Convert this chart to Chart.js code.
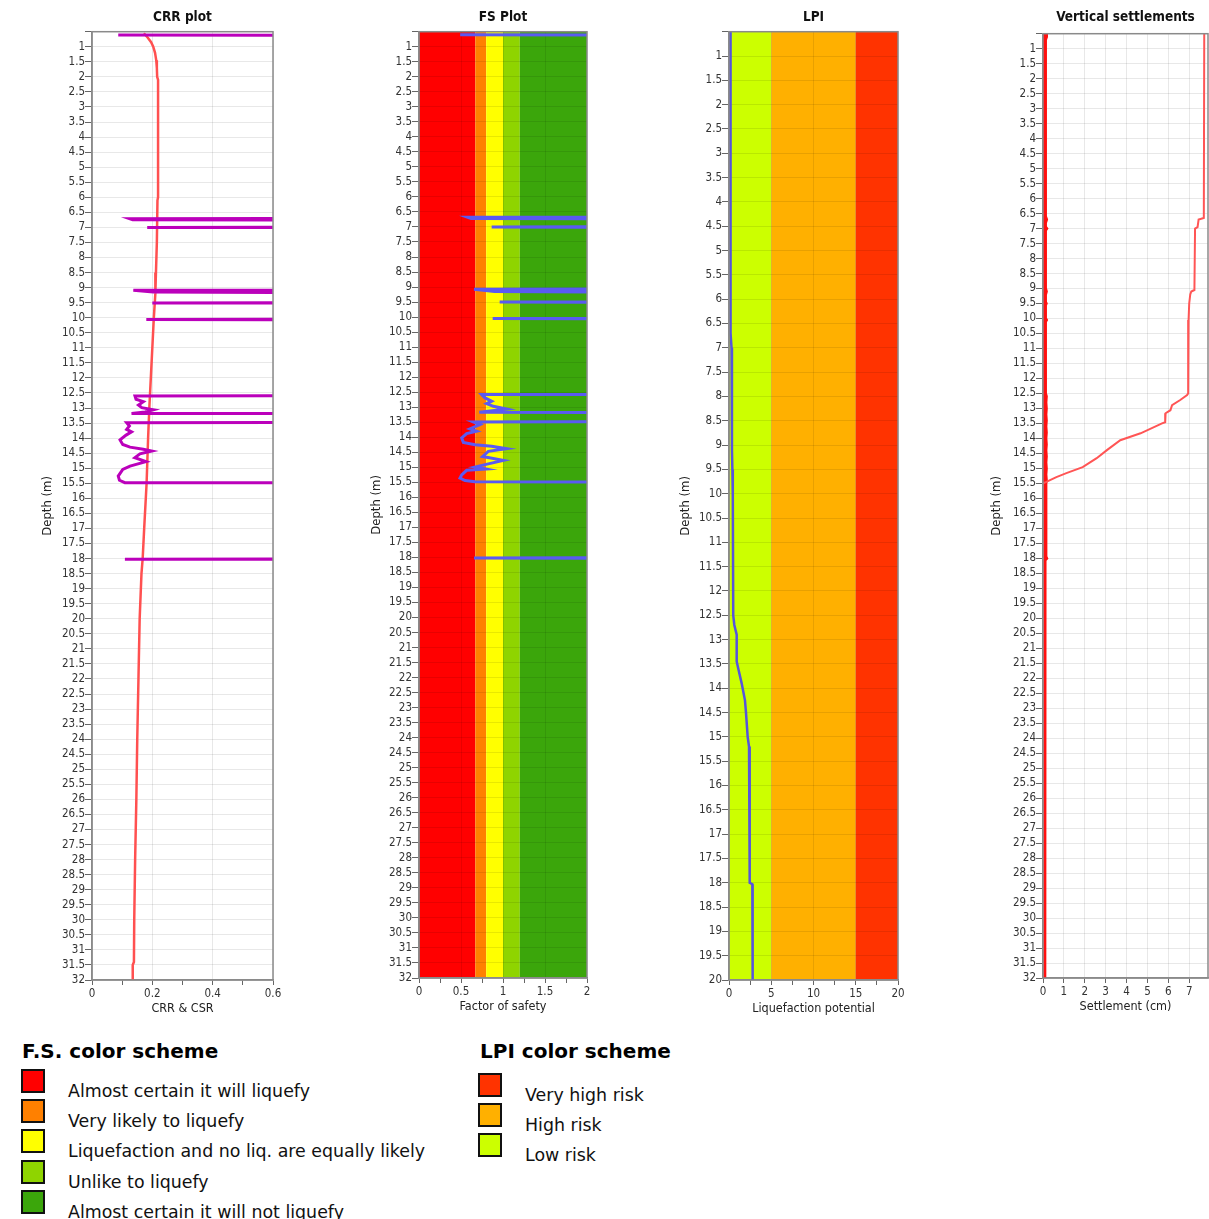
<!DOCTYPE html>
<html>
<head>
<meta charset="utf-8">
<title>Liquefaction analysis</title>
<script src="https://cdn.jsdelivr.net/npm/chart.js@4.4.0/dist/chart.umd.min.js"></script>
<style>
  html, body { margin: 0; padding: 0; background: #fff; width: 1209px; height: 1219px; overflow: hidden; }
  canvas { position: absolute; top: 0; }
  .legend-title { position: absolute; font: bold 20px "DejaVu Sans", sans-serif; color: #000; white-space: nowrap; }
  .sw { position: absolute; width: 20px; height: 20px; border: 2px solid #111; }
  .lbl { position: absolute; font: 17.4px "DejaVu Sans", sans-serif; color: #111; white-space: nowrap; line-height: 20px; }
</style>
</head>
<body>
<canvas id="crr" width="290" height="1025" style="left:0px"></canvas>
<canvas id="fs" width="272" height="1023" style="left:327px"></canvas>
<canvas id="lpi" width="273" height="1025" style="left:637px"></canvas>
<canvas id="settle" width="258" height="1023" style="left:951px"></canvas>

<div class="legend-title" style="left:22px;top:1039px">F.S. color scheme</div>
<div id="fsLegend"></div>
<div class="legend-title" style="left:480px;top:1039px">LPI color scheme</div>
<div id="lpiLegend"></div>

<script>
// ---- CSR (red) and CRR (purple) profiles, depth in m ----
const csrDepth = [0.55, 0.7, 0.85, 1.0, 1.2, 1.45, 1.7, 2.0, 2.1, 6.0, 6.1, 7.5, 8.5, 9.2, 10.0, 11.0, 12.0, 13.0, 14.0, 15.5, 17.0, 18.0, 18.5, 20.0, 22.0, 24.0, 26.0, 28.0, 30.0, 31.4, 31.5, 32.0];
const csrValue = [0.172, 0.185, 0.196, 0.203, 0.209, 0.213, 0.215, 0.216, 0.219, 0.219, 0.217, 0.215, 0.212, 0.21, 0.205, 0.2, 0.195, 0.19, 0.186, 0.181, 0.173, 0.168, 0.164, 0.158, 0.154, 0.15, 0.147, 0.143, 0.14, 0.139, 0.135, 0.135];

// CRR of non-liquefiable layers is plotted as 2 (beyond the axis)
const crrDepth = [0.61, 0.63, 6.69, 6.71, 6.75, 6.77, 6.99, 7.0, 7.03, 9.07, 9.09, 9.15, 9.21, 9.49, 9.51, 9.53, 10.04, 10.06, 10.09,
  12.58, 12.6, 12.71, 12.79, 12.9, 12.99, 13.06, 13.13, 13.18, 13.2,
  13.47, 13.49, 13.6, 13.71, 13.79, 13.9, 14.06, 14.21, 14.3, 14.37, 14.43, 14.52, 14.65, 14.78, 14.93, 15.04, 15.26, 15.4, 15.48, 15.5,
  18.0, 18.02, 18.05, 32.0];
const crrValue = [0.087, 2, 2, 0.124, 0.135, 2, 2, 0.183, 2, 2, 0.137, 0.203, 2, 2, 0.2, 2, 2, 0.18, 2,
  2, 0.1425, 0.146, 0.17, 0.154, 0.165, 0.203, 0.176, 0.131, 2,
  2, 0.115, 0.124, 0.115, 0.131, 0.113, 0.093, 0.102, 0.126, 0.17, 0.198, 0.159, 0.142, 0.179, 0.126, 0.102, 0.087, 0.091, 0.109, 2,
  2, 0.109, 2, 2];

// ---- Factor of safety, capped at 5 where no liquefaction ----
const fsDepth = [0.6, 0.62, 6.66, 6.68, 6.72, 6.74, 6.98, 7.0, 7.03, 9.05, 9.07, 9.15, 9.2, 9.48, 9.5, 9.52, 10.03, 10.05, 10.08,
  12.56, 12.58, 12.69, 12.8, 12.88, 12.97, 13.06, 13.1, 13.17, 13.19,
  13.47, 13.49, 13.58, 13.72, 13.8, 13.88, 14.02, 14.17, 14.25, 14.3, 14.38, 14.47, 14.64, 14.77, 14.91, 14.99, 15.06, 15.1, 15.25, 15.36, 15.44, 15.48, 15.5,
  18.0, 18.02, 18.05, 32.0];
const fsValue = [0.49, 5, 5, 0.58, 0.62, 5, 5, 0.865, 5, 5, 0.655, 0.9, 5, 5, 0.96, 5, 5, 0.877, 5,
  5, 0.746, 0.786, 0.865, 0.806, 0.885, 1.044, 0.925, 0.718, 5,
  5, 0.647, 0.726, 0.607, 0.686, 0.567, 0.508, 0.528, 0.667, 0.865, 1.044, 0.825, 0.758, 1.004, 0.786, 0.667, 0.797, 0.567, 0.508, 0.488, 0.548, 0.667, 5,
  5, 0.655, 5, 5];
const fsBandEdges = [0, 0.67, 0.8, 1.0, 1.2, 2];
const fsBandColors = ['#ff0000', '#ff8000', '#ffff00', '#8fd400', '#3ba60b'];
const fsBandNames = ['Almost certain it will liquefy', 'Very likely to liquefy', 'Liquefaction and no liq. are equally likely', 'Unlike to liquefy', 'Almost certain it will not liquefy'];

// ---- Liquefaction potential index ----
const lpiDepth = [0.5, 6.6, 6.7, 7.0, 9.1, 9.5, 10.05, 12.5, 12.7, 12.9, 13.45, 13.6, 13.9, 14.25, 14.5, 15.0, 15.2, 15.4, 18.0, 18.03, 20.0];
const lpiValue = [0.15, 0.15, 0.22, 0.3, 0.35, 0.4, 0.45, 0.5, 0.63, 0.91, 0.91, 1.1, 1.5, 1.89, 2.01, 2.21, 2.37, 2.45, 2.45, 2.76, 2.8];
const lpiBandEdges = [0, 5, 15, 20];
const lpiBandColors = ['#ccff00', '#ffb000', '#ff3300'];
const lpiLegendNames = ['Very high risk', 'High risk', 'Low risk'];
const lpiLegendColors = ['#ff3300', '#ffb000', '#ccff00'];

// ---- Vertical settlements (cm) ----
const settleDepth = [0.5, 6.65, 6.7, 6.95, 7.0, 9.05, 9.1, 9.2, 9.5, 10.05, 12.5, 12.55, 12.72, 12.89, 13.06, 13.16, 13.46, 13.5, 13.83, 14.06, 14.39, 14.66, 14.96, 15.16, 15.29, 15.45, 15.5, 32.0];
const settleValue = [7.72, 7.7, 7.45, 7.4, 7.28, 7.25, 7.1, 7.05, 7.0, 6.97, 6.95, 6.9, 6.57, 6.18, 6.1, 5.87, 5.85, 5.7, 4.67, 3.7, 3.06, 2.57, 1.9, 1.12, 0.64, 0.16, 0.0, 0.0];
const layerDepth = [0.5, 0.6, 0.7, 6.6, 6.7, 6.8, 6.95, 7.0, 7.05, 9.0, 9.1, 9.2, 9.45, 9.5, 9.55, 10.0, 10.05, 10.1, 12.5, 12.6, 12.8, 13.0, 13.2, 13.4, 13.6, 13.8, 14.0, 14.2, 14.4, 14.6, 14.8, 15.0, 15.2, 15.4, 15.5, 17.95, 18.0, 18.05, 32.0];
const layerValue = [0.1, 0.12, 0.07, 0.07, 0.12, 0.07, 0.07, 0.12, 0.07, 0.07, 0.11, 0.07, 0.07, 0.1, 0.07, 0.07, 0.11, 0.07, 0.07, 0.11, 0.09, 0.11, 0.09, 0.11, 0.09, 0.11, 0.09, 0.11, 0.09, 0.11, 0.09, 0.11, 0.09, 0.11, 0.09, 0.09, 0.12, 0.05, 0.04];

// ---- Axis ticks ----
const crrTicks = [0, 0.1, 0.2, 0.3, 0.4, 0.5, 0.6];
const crrLabels = [0, 0.2, 0.4, 0.6];
const fsTicks = [0, 0.25, 0.5, 0.75, 1, 1.25, 1.5, 1.75, 2];
const fsLabels = [0, 0.5, 1, 1.5, 2];
const lpiTicks = [0, 2.5, 5, 7.5, 10, 12.5, 15, 17.5, 20];
const lpiLabels = [0, 5, 10, 15, 20];
const settleTicks = [0, 1, 2, 3, 4, 5, 6, 7];
const settleLabels = [0, 1, 2, 3, 4, 5, 6, 7];

const FONT = '"DejaVu Sans Condensed", "DejaVu Sans", sans-serif';
Chart.defaults.font.family = FONT;
Chart.defaults.color = '#333';

function pts(depths, values) {
  return depths.map((d, i) => ({ x: values[i], y: d }));
}
function depthTicks(max) {
  const t = [];
  for (let i = 1; i * 0.5 <= max; i++) t.push(i * 0.5);
  return t;
}

// colour bands behind the data and a frame round the plot area
const framePlugin = {
  id: 'frame',
  beforeDraw(chart, args, opts) {
    const b = opts.bands;
    if (!b) return;
    const { top, bottom } = chart.chartArea;
    const xs = chart.scales.x;
    const ctx = chart.ctx;
    ctx.save();
    for (let i = 0; i < b.colors.length; i++) {
      const x0 = xs.getPixelForValue(b.edges[i]);
      const x1 = xs.getPixelForValue(b.edges[i + 1]);
      ctx.fillStyle = b.colors[i];
      ctx.fillRect(x0, top, x1 - x0, bottom - top);
    }
    ctx.restore();
  },
  afterDatasetsDraw(chart) {
    const { left, right, top, bottom } = chart.chartArea;
    const ctx = chart.ctx;
    ctx.save();
    ctx.strokeStyle = '#8a8a8a';
    ctx.lineWidth = 1.5;
    ctx.strokeRect(left, top, right - left, bottom - top);
    ctx.restore();
  }
};

function makePanel(id, p) {
  const yTicks = depthTicks(p.yMax);
  return new Chart(document.getElementById(id), {
    type: 'scatter',
    data: { datasets: p.datasets },
    plugins: [framePlugin],
    options: {
      responsive: false,
      animation: false,
      devicePixelRatio: 1,
      layout: { padding: { left: 0, right: p.padRight, top: 0, bottom: 0 } },
      elements: { point: { radius: 0 }, line: { tension: 0 } },
      plugins: {
        legend: { display: false },
        tooltip: { enabled: false },
        title: {
          display: true, text: p.title, color: '#111', fullSize: false,
          font: { family: FONT, size: 13.5, weight: 'bold' },
          padding: { top: 9, bottom: p.titleGap }
        },
        frame: { bands: p.bands }
      },
      scales: {
        x: {
          type: 'linear', min: p.xMin, max: p.xMax,
          afterFit: s => { s.height = 45; },
          afterBuildTicks: s => { s.ticks = p.xTicks.map(v => ({ value: v })); },
          ticks: {
            padding: 2, color: '#333', font: { size: 11.5 },
            maxRotation: 0, autoSkip: false,
            callback: v => (p.xLabels.includes(v) ? String(v) : '')
          },
          grid: {
            color: c => (c.tick && p.xLabels.includes(c.tick.value) ? 'rgba(0,0,0,0.09)' : 'rgba(0,0,0,0)'),
            tickColor: '#666', tickLength: 5, drawOnChartArea: true
          },
          border: { display: true, color: '#8a8a8a', width: 1.5 },
          title: {
            display: true, text: p.xTitle, color: '#222',
            font: { family: FONT, size: 12.5 }, padding: { top: 0, bottom: 9 }
          }
        },
        y: {
          type: 'linear', reverse: true, min: 0.5, max: p.yMax,
          afterFit: s => { s.width = 92; },
          afterBuildTicks: s => { s.ticks = yTicks.map(v => ({ value: v })); },
          ticks: {
            padding: 0, color: '#333', font: { size: 11.5 }, autoSkip: false,
            callback: v => (v === 0.5 ? '' : String(v))
          },
          grid: { color: 'rgba(0,0,0,0.09)', tickColor: '#666', tickLength: 7 },
          border: { display: true, color: '#8a8a8a', width: 1.5 },
          title: {
            display: true, text: 'Depth (m)', color: '#222',
            font: { family: FONT, size: 13 }, padding: { top: p.yTitlePad, bottom: 0 }
          }
        }
      }
    }
  });
}

makePanel('crr', {
  title: 'CRR plot', xTitle: 'CRR & CSR', titleGap: 6.5,
  xMin: 0, xMax: 0.6, xTicks: crrTicks, xLabels: crrLabels, yMax: 32, padRight: 17, yTitlePad: 40,
  datasets: [
    { label: 'CRR', data: pts(crrDepth, crrValue), showLine: true, borderColor: '#bb00bb', borderWidth: 3, clip: 0 },
    { label: 'CSR', data: pts(csrDepth, csrValue), showLine: true, borderColor: '#ff5050', borderWidth: 2.5, clip: 0 }
  ]
});

makePanel('fs', {
  title: 'FS Plot', xTitle: 'Factor of safety', titleGap: 6.5,
  xMin: 0, xMax: 2, xTicks: fsTicks, xLabels: fsLabels, yMax: 32, padRight: 12, yTitlePad: 42,
  bands: { edges: fsBandEdges, colors: fsBandColors },
  datasets: [
    { label: 'FS', data: pts(fsDepth, fsValue), showLine: true, borderColor: '#5a5af2', borderWidth: 3, clip: 0 }
  ]
});

makePanel('lpi', {
  title: 'LPI', xTitle: 'Liquefaction potential', titleGap: 6.5,
  xMin: 0, xMax: 20, xTicks: lpiTicks, xLabels: lpiLabels, yMax: 20, padRight: 12, yTitlePad: 41,
  bands: { edges: lpiBandEdges, colors: lpiBandColors },
  datasets: [
    { label: 'LPI', data: pts(lpiDepth, lpiValue), showLine: true, borderColor: '#5555dd', borderWidth: 2.5, clip: 0 }
  ]
});

makePanel('settle', {
  title: 'Vertical settlements', xTitle: 'Settlement (cm)', titleGap: 8.5,
  xMin: 0, xMax: 7.9, xTicks: settleTicks, xLabels: settleLabels, yMax: 32, padRight: 1, yTitlePad: 38,
  datasets: [
    { label: 'Cumulative', data: pts(settleDepth, settleValue), showLine: true, borderColor: '#ff5555', borderWidth: 2, clip: 0 },
    { label: 'Layer', data: pts(layerDepth, layerValue), showLine: true, borderColor: '#ff1010', borderWidth: 5, clip: 0 }
  ]
});

// colour scheme keys
function legend(hostId, names, colors, x, swTop, step, textDy) {
  const host = document.getElementById(hostId);
  names.forEach((n, i) => {
    const s = document.createElement('div');
    s.className = 'sw';
    s.style.left = x + 'px';
    s.style.top = (swTop + i * step) + 'px';
    s.style.background = colors[i];
    host.appendChild(s);
    const t = document.createElement('div');
    t.className = 'lbl';
    t.textContent = n;
    t.style.left = (x + 47) + 'px';
    t.style.top = (swTop + i * step + textDy) + 'px';
    host.appendChild(t);
  });
}
legend('fsLegend', fsBandNames, fsBandColors, 21, 1069, 30.2, 12);
legend('lpiLegend', lpiLegendNames, lpiLegendColors, 478, 1073, 30, 12);
</script>
</body>
</html>
